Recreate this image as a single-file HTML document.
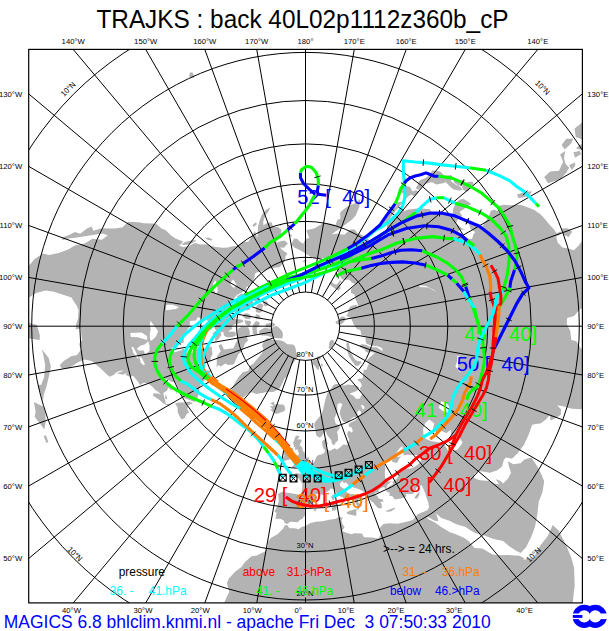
<!DOCTYPE html><html><head><meta charset="utf-8"><title>TRAJKS</title>
<style>html,body{margin:0;padding:0;background:#fff}body{width:609px;height:631px;overflow:hidden}svg{display:block}text{font-family:"Liberation Sans",sans-serif}</style></head><body>
<svg width="609" height="631" viewBox="0 0 609 631">
<rect width="609" height="631" fill="#fff"/>
<defs><clipPath id="f"><rect x="28.7" y="49.4" width="553.7" height="553.5"/></clipPath></defs>
<g clip-path="url(#f)">
<path d="M370.0 711.8L369.2 695.0L366.9 685.6L358.9 683.7L349.6 685.6L343.4 686.9L336.3 678.2L332.4 675.4L320.8 676.1L312.9 678.2L305.5 680.1L293.0 685.5L286.8 683.4L274.4 681.9L258.2 685.2L249.5 680.1L239.9 670.2L231.3 661.0L228.0 654.1L229.4 648.3L224.1 641.0L222.1 637.5L215.0 627.9L216.1 622.3L214.8 613.9L221.8 608.7L225.8 598.9L229.3 591.8L226.9 583.2L228.8 578.5L235.1 571.7L241.4 566.9L245.0 561.9L251.5 556.3L256.8 555.5L265.0 551.5L267.8 546.5L268.2 542.0L270.8 537.9L277.8 534.0L283.2 528.5L284.9 525.2L287.1 525.0L289.6 528.3L294.9 528.2L298.4 529.2L302.0 526.7L305.5 525.9L310.0 523.2L315.7 521.7L322.6 521.3L329.3 519.7L334.7 519.0L339.1 516.9L342.7 517.6L341.5 520.4L342.5 524.1L344.6 527.3L342.0 530.9L345.6 532.4L351.6 534.3L354.1 533.3L361.9 533.6L364.0 537.2L372.2 537.6L378.6 538.4L381.2 534.1L379.2 528.6L383.5 524.1L389.1 523.2L397.7 523.8L405.3 522.1L413.0 520.1L415.4 516.6L418.3 513.9L423.0 512.0L427.3 510.3L429.1 507.5L428.2 502.1L426.8 498.8L425.3 493.5L423.6 489.3L421.6 484.9L419.7 486.3L416.4 487.6L415.2 492.0L412.3 493.9L406.3 494.0L406.0 496.7L401.0 498.6L397.4 499.1L394.9 499.4L392.1 496.1L389.4 496.0L389.6 492.7L386.9 491.7L386.0 489.8L388.9 486.5L393.1 484.2L392.4 481.7L397.1 478.6L400.3 472.2L405.4 468.8L410.8 468.4L415.2 466.6L420.0 462.7L422.2 458.1L419.5 455.1L413.5 454.9L407.8 454.8L403.6 455.0L402.8 450.7L402.4 445.9L399.3 448.4L396.1 453.2L397.3 457.2L401.4 456.2L399.3 458.2L397.4 462.5L395.5 462.7L391.7 461.4L392.9 457.8L388.8 459.5L385.6 459.6L384.9 463.7L385.3 466.2L384.9 471.9L384.9 475.6L385.5 478.5L387.2 479.9L388.7 481.4L391.5 481.3L389.2 483.5L387.4 484.9L386.8 487.1L385.8 489.4L384.0 487.1L381.0 488.1L378.5 490.1L379.1 493.0L375.4 492.4L375.6 494.5L377.9 496.7L378.7 498.6L382.7 499.6L383.6 501.6L380.2 502.1L381.6 503.8L381.9 507.9L380.6 508.4L377.9 508.1L375.2 505.1L373.7 502.9L371.7 501.4L369.2 499.3L365.6 497.0L364.3 492.2L362.2 490.8L358.4 489.0L353.2 487.3L348.8 485.6L345.9 482.2L343.8 483.2L342.9 480.9L339.7 483.3L340.4 486.4L344.6 489.2L347.7 493.0L352.1 494.3L353.9 493.8L354.2 495.9L358.3 496.8L362.8 498.4L363.3 500.0L358.9 498.8L357.8 501.7L360.3 504.5L359.2 507.4L358.2 509.9L356.9 509.0L356.9 505.5L354.8 501.7L351.4 500.1L349.4 499.7L345.4 499.0L342.5 497.2L338.4 495.5L336.5 493.4L335.0 489.9L332.7 488.7L330.6 488.6L328.7 491.0L326.7 492.0L323.8 494.8L320.2 494.4L317.2 493.8L314.9 495.1L314.8 498.4L315.2 500.4L312.3 503.0L308.0 505.6L305.5 509.4L304.5 511.0L306.2 514.0L303.5 516.9L302.8 518.6L299.4 520.2L298.0 522.3L290.4 521.8L287.1 524.1L284.5 523.0L283.7 520.4L280.5 518.7L275.3 518.8L276.6 513.0L274.5 511.4L277.3 506.3L278.7 501.5L278.6 497.8L278.0 494.0L282.2 491.8L285.1 492.5L289.4 493.0L294.4 493.8L299.6 494.9L301.1 494.1L302.1 489.3L302.4 485.7L302.2 483.3L299.9 480.1L298.9 478.5L296.3 477.2L293.7 476.2L293.3 474.2L296.5 472.9L299.1 473.8L301.6 473.5L301.5 470.0L302.5 470.8L305.8 470.8L309.2 468.1L309.4 465.4L311.5 464.1L313.9 462.9L314.9 460.5L316.3 457.0L317.9 455.3L321.3 454.5L323.4 453.5L324.6 452.2L324.9 449.9L323.3 448.2L322.6 446.0L322.1 442.7L322.6 440.4L324.5 439.7L326.3 437.5L326.7 441.9L327.8 442.9L326.6 445.8L326.1 447.8L327.2 449.5L329.7 450.9L331.8 449.7L334.8 448.3L337.0 449.7L340.2 447.2L343.8 444.2L345.7 445.1L348.0 444.3L347.8 442.4L349.3 440.2L347.3 435.0L347.4 432.6L349.0 430.7L351.7 432.4L352.9 431.1L351.4 427.3L349.2 426.7L348.4 425.0L350.0 423.0L352.1 421.7L355.5 420.3L358.4 417.1L355.9 417.2L353.8 417.1L350.8 419.1L349.5 420.9L346.6 423.0L344.2 422.0L342.2 420.4L340.4 415.7L339.8 413.2L340.3 410.3L341.7 405.7L342.5 404.2L339.9 402.7L337.4 404.5L337.4 408.0L337.2 411.9L335.5 415.9L334.4 418.5L335.4 422.8L336.0 424.1L338.5 424.9L340.0 427.1L339.0 429.3L337.0 431.9L337.9 435.5L338.1 440.0L337.5 441.0L335.2 442.8L335.4 444.3L332.9 444.9L331.4 442.1L331.4 440.2L329.2 437.7L326.9 434.4L326.2 432.6L325.1 431.0L325.1 432.1L323.5 433.5L321.1 436.9L319.2 437.5L316.4 435.6L315.8 433.0L314.9 429.1L314.2 425.1L314.8 422.5L317.0 419.7L319.1 417.3L321.2 415.1L322.4 411.6L323.4 408.4L324.0 405.0L325.0 401.5L325.6 398.8L326.3 396.4L327.3 393.4L328.2 392.1L330.0 389.9L331.6 387.7L333.7 384.8L336.2 384.0L338.4 383.9L340.5 384.4L340.5 386.8L342.4 385.3L344.7 385.5L347.9 384.5L351.4 385.0L354.8 385.0L357.7 386.2L358.9 387.6L358.1 390.1L354.9 391.7L351.4 392.9L349.4 393.8L353.8 396.0L356.0 398.9L360.0 398.6L360.6 396.8L362.7 393.2L360.1 391.2L360.1 387.9L362.0 385.7L360.6 382.6L357.1 379.6L356.2 380.0L359.7 378.5L361.1 379.0L362.8 377.8L363.2 374.6L363.7 370.0L366.5 369.7L367.5 366.4L369.2 363.0L366.6 360.4L370.0 356.9L372.9 354.8L374.8 352.8L371.0 352.0L369.0 353.1L365.7 351.8L364.7 349.5L360.7 347.4L359.4 345.8L361.9 344.0L366.3 345.1L371.2 347.2L376.7 347.3L382.8 351.3L382.0 348.1L377.0 346.0L371.6 345.8L366.7 343.8L365.5 341.7L365.8 340.1L365.0 338.9L366.6 336.4L361.5 335.1L360.3 330.0L356.9 328.9L353.4 323.7L351.1 318.2L346.3 315.8L348.1 313.2L348.4 308.9L350.9 306.0L356.1 304.7L358.1 307.0L357.7 304.0L355.6 299.6L354.5 294.4L351.1 293.1L350.9 289.4L355.6 284.1L352.1 282.8L348.9 279.6L344.2 280.1L342.1 279.3L339.5 275.7L337.3 271.1L335.4 267.6L331.1 266.0L328.8 262.1L328.5 259.3L323.8 257.9L319.8 258.8L316.9 257.9L318.1 254.8L316.3 258.1L310.4 256.7L305.5 253.4L301.6 251.0L294.4 247.4L291.1 244.7L294.0 238.5L297.1 238.8L299.6 241.5L303.3 243.8L304.8 240.6L307.8 238.1L309.3 238.5L307.1 232.3L306.3 230.2L314.1 228.4L319.7 225.3L323.7 223.0L331.0 223.8L335.5 225.0L337.5 219.5L340.4 218.9L340.2 212.6L344.0 209.1L349.6 205.0L353.6 204.1L360.3 199.0L359.3 207.0L355.7 215.6L351.7 220.0L347.2 222.9L341.3 227.8L335.4 231.5L331.9 234.2L338.3 233.6L339.9 234.2L344.3 234.8L350.6 229.6L354.7 229.6L357.2 233.0L361.6 234.7L370.1 240.5L377.3 239.1L384.2 238.7L390.1 235.5L390.5 231.8L387.2 228.9L386.8 224.7L390.2 221.6L394.8 217.9L400.1 212.2L408.9 209.4L419.4 208.3L430.0 209.3L431.2 213.0L435.7 213.8L440.8 213.5L443.2 211.9L450.8 214.7L452.8 213.2L453.1 208.8L456.1 202.5L459.4 199.7L463.0 198.7L468.0 201.5L471.1 204.1L467.4 206.4L462.2 210.2L459.6 211.7L462.4 216.3L458.7 217.7L456.8 221.5L456.1 223.5L461.9 228.5L465.2 229.1L458.4 230.7L458.6 234.2L464.9 236.0L469.4 239.0L472.1 238.7L473.7 233.7L475.3 232.1L470.5 229.0L468.5 222.4L470.6 221.8L477.5 225.7L482.2 227.0L484.4 222.9L488.8 216.5L490.6 211.0L493.9 209.4L498.2 211.3L497.3 206.3L503.8 204.7L510.7 205.3L520.2 204.7L526.9 207.0L533.9 209.8L540.4 214.2L544.7 218.7L548.3 223.2L553.2 228.6L556.6 233.3L560.7 231.3L561.2 234.1L556.1 236.5L557.8 242.8L562.5 247.6L568.0 248.4L573.9 250.3L578.9 245.2L584.0 238.4L587.3 231.4L596.4 224.3L605.6 221.7L613.1 226.2L617.9 231.9L623.2 233.3L630.4 239.2L622.6 241.8L621.6 249.7L614.6 257.7L612.4 266.5L608.5 269.5L610.7 272.4L620.2 271.3L629.3 273.2L634.5 268.8L644.4 263.4L647.1 254.8L650.0 247.9L657.1 242.4L667.6 239.3L675.2 232.0L677.2 237.0L673.5 248.0L669.4 253.5L660.9 260.3L651.9 263.3L646.7 269.1L641.8 277.1L630.0 277.7L618.6 278.9L608.0 283.7L597.5 286.7L595.1 293.2L599.9 298.9L598.2 304.2L588.7 303.9L579.8 309.4L574.0 315.9L567.1 318.0L566.7 323.9L570.2 330.8L571.4 340.1L576.3 341.3L580.5 347.8L586.5 355.7L593.8 365.2L596.7 371.3L598.6 376.3L609.1 379.2L620.0 382.2L626.2 386.8L631.6 389.6L633.5 394.7L636.7 399.6L629.1 403.9L616.3 404.8L605.6 407.7L593.9 408.9L582.6 409.3L571.9 408.7L562.1 406.1L557.0 405.5L561.1 409.2L560.7 415.1L550.8 420.4L549.6 415.0L545.9 419.4L540.5 423.6L535.7 423.9L532.2 424.8L528.5 435.0L524.0 444.8L517.4 453.5L511.9 458.7L506.0 457.4L503.8 459.9L502.1 466.4L496.9 470.4L489.7 472.7L484.0 471.8L478.1 471.0L474.3 474.0L473.9 477.9L479.7 480.3L490.1 481.1L494.3 483.5L499.3 484.2L495.5 479.0L500.7 480.9L503.1 483.4L507.9 478.7L511.0 472.8L508.8 465.9L508.0 461.2L513.4 464.3L520.5 463.2L524.5 459.4L531.3 457.6L537.5 466.7L541.5 474.8L544.2 481.2L542.5 492.1L538.7 501.9L537.4 514.0L535.2 525.9L531.3 536.8L526.2 546.9L520.7 553.0L516.5 550.9L509.3 546.3L503.1 541.1L493.7 539.0L484.3 535.5L473.8 532.5L465.1 526.8L456.4 524.3L449.4 520.7L441.3 517.9L436.0 513.2L438.2 520.0L438.1 521.3L434.7 520.7L427.4 516.8L427.7 518.7L435.7 522.9L440.8 526.8L449.8 532.2L453.9 533.5L463.5 537.4L468.6 541.1L474.5 548.1L482.3 548.5L492.1 554.2L497.7 555.2L507.9 555.0L519.5 555.7L524.2 558.3L523.4 559.8L533.4 558.1L540.4 545.2L547.5 536.5L552.7 525.0L558.6 530.4L565.9 544.7L571.2 557.2L574.1 568.0L574.7 586.2L573.9 591.8L572.3 607.4L570.8 620.9L570.8 636.8L578.8 663.7L530.4 715.7L421.9 760.7L372.3 725.5ZM2.9 315.6L11.6 305.6L10.9 295.2L14.8 285.3L20.6 276.0L27.6 267.1L34.9 258.7L43.1 253.4L49.0 255.1L58.8 253.1L68.6 249.2L74.9 245.4L84.6 243.6L92.4 238.8L101.9 239.8L107.8 235.3L102.1 233.5L91.4 235.3L83.3 236.4L75.2 237.8L68.3 238.4L62.5 240.1L61.8 237.5L68.4 235.2L74.9 232.1L80.3 233.8L86.6 228.7L91.7 226.5L93.3 230.8L102.1 228.3L111.1 228.4L115.1 228.4L122.6 227.3L128.2 221.8L138.5 222.3L143.9 223.3L152.3 223.6L156.4 224.1L161.5 228.4L165.4 229.9L171.2 235.6L175.5 238.5L183.1 241.4L180.3 244.9L177.3 244.5L182.6 247.0L187.5 246.6L194.9 242.9L200.9 244.5L206.0 244.2L210.6 245.7L216.0 247.0L222.8 247.8L228.2 247.5L231.0 246.4L237.0 246.0L241.0 243.6L244.3 242.0L248.5 241.8L250.6 238.3L252.0 235.3L254.9 231.1L256.9 236.7L255.3 239.3L257.7 236.3L257.9 230.8L258.0 226.7L259.6 220.7L261.7 215.0L265.6 210.3L270.3 207.3L268.3 211.8L265.3 215.6L263.2 221.6L263.4 225.5L266.1 223.6L271.3 222.1L273.1 226.6L278.0 227.0L281.5 229.8L280.8 234.1L279.8 236.7L276.3 238.9L276.5 243.0L279.6 241.6L284.6 240.6L287.9 243.5L283.8 247.8L279.9 247.5L283.1 250.6L287.4 253.5L285.5 256.5L285.0 261.1L281.8 264.5L279.8 267.2L275.6 267.6L270.9 268.6L266.2 270.0L261.4 271.8L257.0 272.3L254.9 273.8L254.6 277.1L253.2 280.7L252.4 283.9L249.6 284.1L249.0 286.7L246.6 286.5L245.8 290.3L240.6 293.1L237.0 295.0L233.9 298.7L234.1 302.3L229.4 302.9L232.3 305.9L230.5 310.3L231.0 315.1L231.8 317.2L233.4 319.3L236.9 319.0L242.1 319.8L243.8 321.3L240.1 323.3L235.9 323.8L231.3 326.2L232.4 328.8L227.9 331.6L235.0 331.7L236.1 335.3L232.1 337.2L226.7 337.3L224.0 335.5L223.3 331.9L217.2 332.4L215.3 329.4L213.4 325.4L209.9 322.0L204.6 319.1L197.4 317.3L196.1 320.5L189.8 321.1L189.7 326.2L186.1 331.4L183.8 336.8L183.7 342.7L175.9 344.0L172.5 347.3L170.0 350.6L173.4 352.4L180.8 350.4L183.1 348.4L187.0 352.5L192.8 352.8L198.2 348.0L203.2 348.9L208.4 346.8L211.6 346.5L212.0 351.2L212.7 353.7L210.6 357.9L210.5 360.8L206.7 363.1L203.2 364.4L202.6 367.8L205.8 370.6L211.8 370.5L208.5 374.6L204.9 379.7L200.9 384.2L199.3 388.8L198.4 394.5L197.0 399.4L194.1 401.9L191.0 400.6L185.2 398.5L180.8 393.9L178.6 388.1L175.7 382.6L171.5 381.7L167.2 379.3L161.1 377.3L163.4 379.3L170.2 383.6L174.3 388.8L171.1 390.3L168.4 387.2L167.0 390.8L163.3 393.1L164.1 396.7L165.3 400.7L165.6 403.8L170.4 404.2L171.4 402.0L169.0 405.7L164.5 404.3L158.8 399.4L153.0 395.7L153.6 393.2L158.1 393.4L161.1 395.1L158.3 391.7L155.3 390.0L152.2 386.6L148.4 383.4L143.9 382.8L140.6 384.6L140.8 386.2L138.8 383.0L136.3 379.5L133.0 375.7L129.4 376.7L125.4 374.8L127.0 372.4L123.2 374.7L118.7 373.8L116.3 373.4L124.3 370.4L120.1 370.7L116.1 372.4L114.4 374.5L109.7 376.8L106.3 374.0L102.3 370.1L98.4 366.5L91.6 360.9L84.5 359.6L78.0 362.2L73.8 365.0L68.6 368.0L61.5 368.4L59.9 365.1L63.7 361.0L71.1 356.2L77.0 355.1L81.0 349.8L79.1 344.0L82.0 339.9L81.3 334.0L80.7 328.2L75.7 329.4L76.1 324.2L78.1 318.3L78.5 310.3L77.0 306.2L71.4 297.5L63.2 294.7L53.9 291.7L45.7 290.6L36.3 293.1L29.2 297.2L24.0 302.6L24.8 313.9L26.1 321.3L31.7 323.8L36.8 324.8L39.9 335.5L39.6 340.1L32.0 339.1L24.2 337.0L18.9 335.2L11.0 333.9L10.5 346.8L8.5 360.0L2.1 361.8ZM291.4 467.4L295.2 467.0L297.0 465.9L300.6 466.1L303.1 465.4L306.2 465.4L308.9 463.9L307.2 462.7L309.4 458.5L308.5 457.4L306.2 457.4L306.2 455.1L305.1 452.9L302.9 451.0L302.1 447.6L300.3 445.6L299.2 445.6L300.4 443.8L301.5 440.8L301.9 439.7L298.6 439.2L297.2 439.9L299.1 437.0L299.7 436.0L295.9 435.7L294.7 438.5L293.8 441.4L292.8 442.8L294.0 445.2L293.6 447.4L295.2 446.4L295.0 449.0L294.5 449.7L298.0 449.6L297.8 451.5L299.1 453.1L298.5 455.3L295.8 455.5L294.9 457.4L296.0 458.6L294.2 460.4L293.2 461.0L295.5 462.0L298.3 462.9L297.1 463.6L294.6 464.2ZM291.0 459.3L291.9 455.2L292.8 451.1L293.6 450.0L292.7 448.1L290.0 447.4L287.2 448.5L286.9 450.7L283.6 450.6L283.5 453.6L284.4 454.9L283.7 456.7L281.5 458.3L281.9 460.3L284.1 461.1L286.7 460.3L289.1 459.4ZM270.7 410.3L274.0 412.7L276.2 413.9L280.7 412.6L283.4 411.5L285.4 409.4L284.5 405.9L283.1 404.4L280.0 404.6L276.8 403.8L274.4 405.2L274.2 401.7L271.4 402.8L270.6 403.6L273.4 405.6L272.3 406.3L270.0 406.0L272.1 408.9L270.5 409.8ZM312.4 363.6L312.5 360.4L314.9 359.1L317.2 360.2L319.2 362.0L318.9 365.1L318.9 370.1L317.0 369.2L315.1 366.2ZM315.9 358.1L318.2 356.1L320.9 356.4L320.4 359.7L317.3 359.4ZM320.8 366.2L321.3 363.4L322.8 364.2L322.6 366.6ZM355.3 365.8L354.3 364.3L352.2 361.4L349.1 356.7L347.7 352.6L347.0 348.3L346.2 344.3L347.4 342.3L348.7 342.8L349.6 346.8L350.5 351.2L352.4 354.9L354.2 358.5L356.8 360.8L360.7 361.4L361.6 362.6L358.7 365.5ZM329.8 348.8L331.9 346.8L333.9 344.0L333.8 340.6L331.2 339.8L329.3 342.3L329.1 346.0L328.5 347.7ZM343.0 322.9L345.4 319.9L344.4 316.5L340.9 316.7L339.1 319.7L335.3 322.0L336.2 323.5L339.7 325.0ZM340.6 288.6L340.2 286.3L340.0 280.4L336.9 284.5L333.9 284.1L331.2 281.6L329.1 283.6L331.6 285.9L335.7 288.9L338.7 290.6ZM342.5 282.8L339.8 279.8L339.8 282.3ZM307.2 260.8L304.4 262.5L302.7 261.5L304.3 260.1ZM402.8 201.7L397.6 201.8L396.2 206.6L390.4 207.2L388.4 215.3L383.7 221.3L381.6 225.9L384.9 224.6L388.8 220.4L393.1 214.1L397.9 207.9L401.8 203.4ZM418.7 191.3L415.6 190.3L412.6 191.6L409.5 186.6L401.1 187.1L399.3 190.7L404.7 194.6L404.9 200.4L407.6 196.9L411.0 194.5L413.6 196.0L416.5 194.8ZM462.6 190.1L460.3 186.8L455.0 184.3L450.7 181.0L452.6 178.1L451.4 175.1L446.4 175.7L443.9 175.2L440.7 171.7L436.9 170.7L432.0 170.6L429.8 174.9L425.5 178.0L421.1 179.8L418.8 181.2L417.7 185.1L415.6 188.2L418.8 189.7L422.7 186.5L425.9 183.8L431.7 182.1L436.3 184.5L438.9 184.1L443.9 182.9L445.6 182.1L450.0 186.6L453.5 189.6L458.9 190.5ZM463.0 189.8L462.0 186.7L463.9 183.6L469.8 181.4L473.2 181.9L473.4 184.3L468.9 187.2L469.5 190.0L466.9 191.7L464.3 190.6ZM458.8 185.7L454.1 182.7L453.9 179.3L456.7 179.1L460.3 180.9L462.2 181.6L461.5 184.8ZM529.2 196.0L518.6 198.2L517.0 194.6L524.1 192.3L532.0 191.2ZM568.7 237.1L563.6 234.8L561.3 228.5L567.7 228.2L572.3 231.7ZM566.4 172.5L560.7 178.9L548.0 183.3L544.2 177.0L550.1 171.6L559.0 170.8L563.1 162.1L560.1 154.5L565.2 151.0L564.0 158.3L565.5 163.7L569.2 167.7ZM598.9 142.9L585.9 140.6L575.7 137.0L574.6 128.5L586.4 119.1L593.1 121.0L594.1 127.8L591.4 136.9ZM564.7 149.4L561.6 144.9L566.3 138.8L573.3 138.7L571.1 143.6ZM575.0 157.8L573.4 152.2L579.5 151.0L581.3 153.9ZM582.2 149.9L575.9 148.6L580.1 144.5L585.1 144.6ZM605.7 171.9L597.4 167.7L584.8 168.8L588.3 165.6L598.4 165.8L605.9 169.8ZM571.8 169.9L569.1 165.3L574.6 162.6L575.5 165.2ZM665.6 202.2L659.9 190.2L651.9 189.7L645.9 181.7L635.7 179.2L626.1 173.3L614.5 170.8L615.6 163.4L617.8 153.1L625.7 155.9L634.0 153.7L641.8 147.4L652.3 145.7L675.8 145.6L692.7 185.3L675.2 198.9ZM658.5 293.5L659.5 279.6L667.2 270.9L675.5 257.6L681.3 246.3L685.7 234.9L698.4 228.2L710.0 247.6L697.3 257.1L680.7 268.8L672.5 281.1ZM640.0 386.4L629.9 382.2L637.9 377.7L646.2 374.7L652.3 379.3L652.4 386.1L646.0 387.5ZM346.5 512.5L349.2 511.0L356.4 508.7L356.3 514.4L356.6 515.7L353.8 515.5L347.5 514.0ZM332.1 510.8L331.6 502.9L333.9 501.3L336.2 503.8L336.5 509.3L334.7 510.4ZM331.3 496.7L333.3 493.9L334.2 497.9L333.7 500.5L332.0 499.1ZM386.1 510.7L395.1 507.5L394.7 509.1L390.7 511.5L386.1 511.7ZM414.3 498.2L415.6 495.8L419.4 491.3L419.3 494.9L417.3 498.4ZM313.2 510.0L315.7 508.7L316.4 509.9L315.2 511.2ZM175.1 403.6L177.6 407.7L177.8 412.3L179.5 416.1L181.5 419.6L184.9 418.1L186.4 414.3L188.9 412.5L187.3 408.9L188.2 405.3L193.0 403.5L189.4 401.6L183.2 402.6L178.5 402.5ZM233.1 402.5L232.1 398.4L230.4 393.9L232.2 387.7L235.4 381.9L239.1 376.2L242.8 372.2L248.4 370.8L249.4 366.2L253.7 363.2L257.1 358.9L261.8 353.5L263.5 349.5L262.0 345.6L263.3 342.4L265.0 340.1L266.9 338.0L272.2 339.7L276.1 339.9L280.1 340.3L283.7 341.5L287.4 344.3L292.8 344.4L294.9 346.1L295.9 350.0L296.5 353.8L299.5 354.6L296.1 359.1L293.9 362.0L290.9 366.4L289.9 371.6L287.3 376.2L284.3 378.8L282.3 383.6L279.8 388.3L273.4 392.0L267.7 391.7L262.2 392.9L256.2 394.0L252.1 392.2L248.0 393.5L243.9 397.0L238.4 399.4ZM216.5 367.7L216.8 362.0L216.7 356.8L220.7 351.3L218.4 345.5L221.4 344.1L223.9 349.6L229.2 348.8L233.5 348.2L235.2 343.7L237.9 339.9L236.9 335.8L237.5 332.1L238.4 328.5L241.8 326.8L248.1 327.2L249.7 331.1L249.8 335.0L246.6 336.6L248.1 340.5L245.0 343.6L243.6 347.5L242.0 351.2L238.5 353.9L235.6 360.3L233.7 364.4L227.9 364.9L225.3 363.6L220.8 366.6L218.1 365.1ZM259.2 334.4L261.9 335.5L267.3 335.7L271.3 337.3L277.2 338.2L282.3 338.6L283.0 334.4L282.1 331.2L279.3 328.0L276.4 325.7L273.0 327.3L269.7 328.7L265.1 327.6L261.7 329.3L259.1 331.1ZM269.7 323.1L265.5 324.1L266.1 326.9L269.6 327.5L274.0 326.2L275.5 324.6L273.2 322.8ZM254.8 335.1L252.8 333.6L252.3 328.1L253.4 324.4L256.0 321.0L259.7 322.2L259.2 325.4L256.5 327.9L257.1 331.3L257.4 333.8ZM234.4 312.4L234.1 307.1L236.1 300.9L237.4 295.9L241.6 293.6L245.9 295.2L247.8 299.3L249.5 295.8L253.0 298.3L253.1 302.9L249.9 306.0L250.3 309.3L247.4 310.6L242.3 309.3L239.7 312.8ZM254.2 290.3L251.2 290.9L250.4 294.4L252.6 297.5L253.6 300.9L257.2 301.6L259.9 298.8L259.6 294.7L256.5 291.3ZM260.6 303.3L257.5 304.8L255.5 308.0L256.0 312.0L259.4 313.0L262.4 311.4L262.3 307.8L263.6 304.9ZM244.9 313.3L242.6 316.2L245.8 318.9L250.0 318.9L251.5 316.2L248.4 313.6ZM244.6 320.3L245.4 324.1L248.8 326.2L250.9 323.8L250.8 320.9ZM215.4 330.9L212.6 333.5L215.2 337.3L215.1 341.7L218.4 339.2L221.4 335.0L220.8 332.1L218.2 330.8ZM233.3 314.1L232.2 317.2L234.4 319.4L236.4 317.1L235.8 314.5ZM256.6 314.0L254.8 317.3L256.2 319.3L260.1 319.0L260.4 315.8ZM265.8 300.4L262.9 302.6L264.8 306.4L268.0 305.4L267.7 302.6ZM41.8 349.3L48.6 357.7L50.9 366.5L49.0 376.1L46.6 386.0L43.9 393.9L43.0 400.5L37.7 385.6L41.2 384.8L44.2 377.0L45.2 365.1L43.5 356.1ZM33.9 402.0L43.2 406.4L45.4 413.2L45.7 421.8L44.3 429.6L39.5 423.0L34.6 416.8L35.6 411.3ZM46.0 435.3L48.5 442.2L46.4 442.7L43.6 436.3ZM193.7 75.2L193.9 77.9L189.4 77.1L189.8 72.4L192.5 72.4ZM181.6 244.2L185.1 241.9L191.8 240.6L196.2 239.9L194.0 242.2L188.6 244.4L184.0 244.9ZM256.0 222.3L252.7 224.8L253.4 226.9L255.1 226.0L256.8 224.0ZM211.8 240.4L208.1 240.0L204.9 237.8L209.0 237.8L212.6 239.6ZM291.8 234.8L287.7 234.8L289.7 236.6L292.1 236.2ZM281.9 224.1L279.6 224.7L280.5 226.0ZM176.7 387.6L176.8 394.6L175.7 390.9ZM165.7 393.5L167.4 399.6L165.0 398.4Z" fill="#b3b3b3" fill-rule="nonzero"/>
<path d="M452.1 451.4L457.7 449.4L462.6 442.4L459.8 438.3L455.0 435.6L451.1 435.9L450.6 429.7L446.4 433.2L442.0 430.9L436.1 431.9L432.9 429.4L434.2 423.2L429.1 419.4L425.2 423.1L423.2 428.5L423.4 434.3L425.0 438.4L430.8 441.1L436.5 442.1L442.6 443.3L445.9 447.0L447.9 450.5ZM438.5 407.7L441.2 401.4L446.1 402.5L450.0 407.9L448.8 412.3L444.0 411.7ZM438.0 293.2L433.1 289.6L426.0 285.9L419.0 285.3L419.6 286.9L428.5 287.4L435.5 291.4ZM460.0 372.0L455.4 366.4L457.1 361.2L457.5 355.7L459.8 356.2L458.7 361.6L458.1 367.1L461.2 370.8ZM357.8 416.1L357.2 412.3L358.9 409.9L361.2 411.9L360.8 414.7ZM362.8 409.5L360.8 405.2L363.1 404.9L364.9 408.0ZM150.4 320.8L154.6 326.2L158.2 331.3L155.8 336.7L151.7 340.5L150.1 340.3L149.7 334.4L150.7 328.9L149.9 324.8ZM130.3 332.9L130.9 336.9L137.9 337.3L145.3 339.4L147.3 340.0L147.0 335.9L141.7 332.5L135.6 332.7ZM148.3 341.3L149.5 345.4L149.5 350.9L145.2 354.5L143.7 350.4L138.1 350.6L136.9 348.4L140.7 345.6L144.6 344.5ZM131.4 346.7L133.6 353.4L137.8 358.8L138.6 358.6L136.4 353.0L133.5 347.3ZM139.4 356.4L140.7 362.7L144.3 365.8L144.6 363.4L141.8 358.0ZM233.4 279.4L236.7 284.9L233.7 288.0L230.6 284.7L231.2 281.6ZM215.4 280.3L217.1 285.0L217.8 290.8L216.0 294.5L213.4 289.0L213.2 283.2ZM166.4 304.7L166.0 310.3L175.8 309.1L179.1 307.3L172.6 304.7Z" fill="#fff"/>
<g fill="none" stroke="#000" stroke-width="1"><circle cx="305.5" cy="326.2" r="328.1"/><circle cx="305.5" cy="326.2" r="273.8"/><circle cx="305.5" cy="326.2" r="225.7"/><circle cx="305.5" cy="326.2" r="182.3"/><circle cx="305.5" cy="326.2" r="142.3"/><circle cx="305.5" cy="326.2" r="104.8"/><circle cx="305.5" cy="326.2" r="68.9"/><circle cx="305.5" cy="326.2" r="34.2"/><path d="M305.5 360.4 L305.5 385.1M305.5 392.9 L305.5 421.0M305.5 428.8 L305.5 458.5M305.5 466.3 L305.5 498.5M305.5 506.3 L305.5 541.9M305.5 549.7 L305.5 589.7M305.5 597.5 L305.5 746.2M311.4 359.9 L378.4 739.8M317.2 358.3 L449.1 720.9M322.6 355.8 L515.5 689.9M327.5 352.4 L575.5 647.9M331.7 348.2 L627.2 596.2M335.1 343.3 L669.2 536.2M337.6 337.9 L700.2 469.8M339.2 332.1 L719.1 399.1M339.7 326.2 L725.5 326.2M339.2 320.3 L719.1 253.3M337.6 314.5 L700.2 182.6M335.1 309.1 L669.2 116.2M331.7 304.2 L627.2 56.2M327.5 300.0 L575.5 4.5M322.6 296.6 L515.5 -37.5M317.2 294.1 L449.1 -68.5M311.4 292.5 L378.4 -87.4M305.5 292.0 L305.5 -93.8M299.6 292.5 L232.6 -87.4M293.8 294.1 L161.9 -68.5M288.4 296.6 L95.5 -37.5M283.5 300.0 L35.5 4.5M279.3 304.2 L-16.2 56.2M275.9 309.1 L-58.2 116.2M273.4 314.5 L-89.2 182.6M271.8 320.3 L-108.1 253.3M271.3 326.2 L-114.5 326.2M271.8 332.1 L-108.1 399.1M273.4 337.9 L-89.2 469.8M275.9 343.3 L-58.2 536.2M279.3 348.2 L-16.2 596.2M283.5 352.4 L35.5 647.9M288.4 355.8 L95.5 689.9M293.8 358.3 L161.9 720.9M299.6 359.9 L232.6 739.8"/></g>
<text transform="translate(305.1 596.3) scale(0.947 1)" font-size="8.03" fill="#000" text-anchor="middle" xml:space="preserve">20°N</text><text transform="translate(305.1 548.4) scale(0.947 1)" font-size="8.03" fill="#000" text-anchor="middle" xml:space="preserve">30°N</text><text transform="translate(305.1 505.0) scale(0.947 1)" font-size="8.03" fill="#000" text-anchor="middle" xml:space="preserve">40°N</text><text transform="translate(305.1 465.0) scale(0.947 1)" font-size="8.03" fill="#000" text-anchor="middle" xml:space="preserve">50°N</text><text transform="translate(305.1 427.5) scale(0.947 1)" font-size="8.03" fill="#000" text-anchor="middle" xml:space="preserve">60°N</text><text transform="translate(305.1 391.6) scale(0.947 1)" font-size="8.03" fill="#000" text-anchor="middle" xml:space="preserve">70°N</text><text transform="translate(305.1 356.9) scale(0.947 1)" font-size="8.03" fill="#000" text-anchor="middle" xml:space="preserve">80°N</text><text transform="translate(68.1 89.1) rotate(-45) scale(0.947 1)" x="0" y="2.7" font-size="8.0" text-anchor="middle" fill="#000">10°N</text><text transform="translate(542.5 87.5) rotate(45) scale(0.947 1)" x="0" y="2.7" font-size="8.0" text-anchor="middle" fill="#000">10°N</text><text transform="translate(75.0 554.0) rotate(45) scale(0.947 1)" x="0" y="2.7" font-size="8.0" text-anchor="middle" fill="#000">10°N</text><text transform="translate(533.6 554.8) rotate(-45) scale(0.947 1)" x="0" y="2.7" font-size="8.0" text-anchor="middle" fill="#000">10°N</text>
<text transform="translate(297.3 203.7) scale(0.98 1)" font-size="20.6" fill="#0000ff" xml:space="preserve">52 [  40]</text><text transform="translate(464.2 341.0) scale(0.98 1)" font-size="20.6" fill="#00ff00" xml:space="preserve">45 [  40]</text><text transform="translate(456.7 370.9) scale(0.98 1)" font-size="20.6" fill="#0000ff" xml:space="preserve">50 [  40]</text><text transform="translate(414.8 417.0) scale(0.98 1)" font-size="20.6" fill="#00ff00" xml:space="preserve">41 [  40]</text><text transform="translate(419.1 459.9) scale(0.98 1)" font-size="20.6" fill="#ff0000" xml:space="preserve">30 [  40]</text><text transform="translate(398.4 492.2) scale(0.98 1)" font-size="20.6" fill="#ff0000" xml:space="preserve">28 [  40]</text><text transform="translate(253.7 502.3) scale(0.98 1)" font-size="20.6" fill="#ff0000" xml:space="preserve">29 [  40]</text><text transform="translate(295.7 507.7) scale(0.98 1)" font-size="20.6" fill="#ff7f00" xml:space="preserve">33 [  40]</text><g fill="none" stroke-linejoin="round" stroke-linecap="butt"><polyline stroke="#ff7f00" stroke-width="3.1" points="218.0,382.0 211.0,377.0"/><polyline stroke="#00ffff" stroke-width="3.1" points="211.0,377.0 205.0,372.0 201.6,369.1 200.1,363.2 199.1,356.3 199.6,349.4 201.1,341.5 203.6,335.6 207.5,329.7 229.3,312.9 249.0,301.1 268.7,291.2 288.4,283.3 300.0,279.4 319.6,268.0 335.0,258.5 347.6,250.0 357.0,244.3 367.0,237.0 375.7,230.0 382.0,226.8 391.1,219.9 398.0,213.0 402.6,206.1 404.9,196.9 404.5,185.0 403.3,172.0 403.4,160.8 415.2,162.0 429.6,163.1 442.3,164.9 454.9,166.2 469.5,167.8"/><polyline stroke="#00ff00" stroke-width="3.1" points="469.5,167.8 486.1,170.2"/><polyline stroke="#00ffff" stroke-width="3.1" points="486.1,170.2 500.4,176.1 509.9,180.9 517.0,186.8 524.2,191.6 531.3,198.7 536.0,203.5"/><polyline stroke="#00ff00" stroke-width="3.1" points="536.0,203.5 538.9,206.6"/><polyline stroke="#00ffff" stroke-width="3.1" points="282.8,477.8 279.3,472.2 277.5,468.5"/><polyline stroke="#00ff00" stroke-width="3.1" points="277.5,468.5 276.8,466.5 274.3,461.6"/><polyline stroke="#00ffff" stroke-width="3.1" points="274.3,461.6 271.1,456.7 268.5,453.0"/><polyline stroke="#00ff00" stroke-width="3.1" points="268.5,453.0 266.9,450.9 263.7,446.8"/><polyline stroke="#00ffff" stroke-width="3.1" points="263.7,446.8 259.6,441.1 253.0,433.9 247.0,428.5 243.1,426.0 235.2,419.8 227.3,413.9 219.4,409.3 212.2,406.6"/><polyline stroke="#00ff00" stroke-width="3.1" points="212.2,406.6 205.0,403.3 196.5,399.7 187.0,395.5 181.0,392.5 176.2,390.0 168.1,384.4 161.4,377.5 157.0,370.6 154.8,363.2 154.8,357.3 157.0,349.9 162.2,343.2"/><polyline stroke="#00ffff" stroke-width="3.1" points="162.2,343.2 167.3,338.1 171.8,332.9 176.9,326.3"/><polyline stroke="#00ff00" stroke-width="3.1" points="176.9,326.3 182.9,320.3 187.3,315.9 192.5,310.0 201.7,299.1 211.5,289.3 223.3,278.4 233.2,269.6"/><polyline stroke="#0000ff" stroke-width="3.1" points="233.2,269.6 236.5,267.0"/><polyline stroke="#00ff00" stroke-width="3.1" points="236.5,267.0 243.1,263.6"/><polyline stroke="#0000ff" stroke-width="3.1" points="243.1,263.6 254.0,256.0 264.7,247.9"/><polyline stroke="#00ff00" stroke-width="3.1" points="264.7,247.9 270.0,242.6 279.9,236.7 287.7,229.8"/><polyline stroke="#0000ff" stroke-width="3.1" points="287.7,229.8 294.6,223.9"/><polyline stroke="#00ff00" stroke-width="3.1" points="294.6,223.9 303.5,213.1 309.4,205.2 312.4,199.3 315.3,194.3"/><polyline stroke="#0000ff" stroke-width="3.1" points="315.3,194.3 309.4,189.4 303.5,183.5 300.5,177.6 300.5,172.7"/><polyline stroke="#00ff00" stroke-width="3.1" points="300.5,172.7 301.5,169.7 306.5,166.2 311.4,167.3 316.3,172.7 318.3,179.6 318.3,185.5"/><polyline stroke="#0000ff" stroke-width="3.1" points="318.3,185.5 317.3,191.4 318.3,194.3 326.2,195.3"/><polyline stroke="#00ffff" stroke-width="3.1" points="293.5,478.6 290.8,473.9 285.8,467.3 280.9,459.1 277.6,455.0"/><polyline stroke="#ff7f00" stroke-width="3.1" points="277.6,455.0 269.0,447.0 260.0,438.8 253.6,433.0 245.7,425.7 237.8,417.8 228.6,409.9 219.4,403.3 210.9,399.4"/><polyline stroke="#00ffff" stroke-width="3.1" points="210.9,399.4 206.3,397.4 199.7,393.5 193.1,388.2 186.6,383.6 180.6,380.9"/><polyline stroke="#00ff00" stroke-width="3.1" points="180.6,380.9 174.7,375.0 171.0,368.4 169.6,361.7 170.3,355.8 173.3,349.2"/><polyline stroke="#00ffff" stroke-width="3.1" points="173.3,349.2 179.2,341.8 184.3,335.1 191.7,328.5 199.1,322.6 207.6,317.2 225.3,306.0 245.0,295.2"/><polyline stroke="#00ff00" stroke-width="3.1" points="245.0,295.2 268.7,283.7 290.0,273.6 304.8,267.9 319.6,261.9 334.3,255.3 347.6,248.6"/><polyline stroke="#0000ff" stroke-width="3.1" points="347.6,248.6 356.5,243.5 366.8,236.1 375.7,228.7 380.0,225.0 386.6,215.3 395.3,203.6"/><polyline stroke="#00ff00" stroke-width="3.1" points="395.3,203.6 398.5,196.0 400.7,188.8 404.3,183.4"/><polyline stroke="#0000ff" stroke-width="3.1" points="404.3,183.4 406.5,180.5 410.0,178.0 415.2,176.0 420.6,174.8 426.0,172.9 429.5,174.3 434.4,176.3 438.6,176.3"/><polyline stroke="#00ff00" stroke-width="3.1" points="438.6,176.3 451.3,177.9 462.1,182.4 471.2,187.0 481.4,192.8 490.9,201.1 499.2,208.2 505.2,217.7 509.9,226.0 512.3,235.6 515.1,245.1 517.0,254.6 516.5,262.0 514.5,270.0"/><polyline stroke="#0000ff" stroke-width="3.1" points="514.5,270.0 512.5,276.0 510.8,281.0 509.8,287.9"/><polyline stroke="#00ff00" stroke-width="3.1" points="509.8,287.9 507.5,293.0 504.9,297.7 501.0,304.0 498.0,309.6"/><polyline stroke="#00ffff" stroke-width="3.1" points="306.8,478.6 302.2,472.2 295.7,464.0 289.1,454.2 282.5,446.0 275.2,439.4"/><polyline stroke="#ff7f00" stroke-width="3.1" points="275.2,439.4 265.0,430.0 256.2,422.5 248.3,415.2 240.4,408.6"/><polyline stroke="#00ffff" stroke-width="3.1" points="240.4,408.6 232.0,404.0 224.0,399.0 216.0,393.5 209.0,388.5 202.0,383.0 196.0,378.0 190.5,372.5 186.5,366.5 183.6,359.3 184.2,353.0 188.8,345.0 194.7,338.6 201.6,329.7 209.5,321.8 218.3,314.9 227.2,309.5 245.0,297.8 268.7,286.0"/><polyline stroke="#00ff00" stroke-width="3.1" points="268.7,286.0 290.0,277.3 312.2,272.0 334.3,264.5 349.1,257.5"/><polyline stroke="#00ff00" stroke-width="3.1" points="349.1,257.5 363.9,246.0 380.0,235.5 382.6,233.9 395.3,226.7 406.1,219.5 416.1,212.3"/><polyline stroke="#00ffff" stroke-width="3.1" points="416.1,212.3 422.4,205.9 429.6,199.6 436.8,197.8"/><polyline stroke="#00ff00" stroke-width="3.1" points="436.8,197.8 444.1,197.8"/><polyline stroke="#00ffff" stroke-width="3.1" points="444.1,197.8 454.9,203.2"/><polyline stroke="#00ff00" stroke-width="3.1" points="454.9,203.2 467.5,206.8 481.4,213.0 490.9,218.9 500.4,228.4 506.3,236.7 508.7,245.1 509.4,254.6 508.7,264.1 507.5,273.6 505.2,283.1 502.8,290.2"/><polyline stroke="#00ffff" stroke-width="3.1" points="502.8,290.2 500.5,293.5 497.0,297.0 495.0,305.6"/><polyline stroke="#00ffff" stroke-width="3.1" points="317.7,478.4 312.1,472.2 305.5,465.7 299.0,459.9 292.4,455.8"/><polyline stroke="#ff7f00" stroke-width="3.1" points="292.4,455.8 285.8,449.3 279.6,441.3 273.2,433.5 266.7,427.0 255.3,417.2 247.2,410.6 239.2,404.4 233.2,399.2 227.3,394.0"/><polyline stroke="#00ffff" stroke-width="3.1" points="227.3,394.0 221.2,389.2 214.8,384.5 209.5,379.5 205.5,374.0 203.6,368.0 202.6,359.3 204.6,352.4 208.5,344.5 214.4,335.6 222.4,326.7 229.0,318.9 237.1,313.0 254.9,303.5 272.6,294.7 290.3,288.3 304.8,282.6 319.6,275.2 334.3,267.9 349.1,261.9"/><polyline stroke="#00ff00" stroke-width="3.1" points="349.1,261.9 360.9,259.7 371.3,258.6"/><polyline stroke="#0000ff" stroke-width="3.1" points="371.3,258.6 380.8,256.1 391.7,252.5 400.7,250.3 411.5,249.8 422.4,250.7"/><polyline stroke="#00ff00" stroke-width="3.1" points="422.4,250.7 426.0,252.5 436.8,257.0 447.7,263.4 456.7,270.6 462.1,277.8 465.7,286.8"/><polyline stroke="#0000ff" stroke-width="3.1" points="465.7,286.8 469.3,297.7"/><polyline stroke="#00ff00" stroke-width="3.1" points="469.3,297.7 473.9,310.0 476.3,317.4 479.3,327.3"/><polyline stroke="#00ffff" stroke-width="3.1" points="338.7,475.3 333.0,479.5 326.0,481.6 318.0,479.6 309.0,473.6 297.1,464.4"/><polyline stroke="#ff7f00" stroke-width="3.1" points="297.1,464.4 290.0,456.3 283.1,447.3 276.6,438.4 270.8,431.4 264.0,423.2 253.1,413.3 242.0,403.9 231.3,395.2 220.0,388.2 211.0,382.3"/><polyline stroke="#00ffff" stroke-width="3.1" points="348.5,472.7 342.0,477.5 335.0,480.8 327.0,480.9 318.0,477.8 309.0,471.8 298.1,463.5"/><polyline stroke="#ff7f00" stroke-width="3.1" points="298.1,463.5 291.1,455.4 284.3,446.5 277.7,437.5 271.9,430.5 264.9,422.2 253.9,412.4 242.7,403.0 231.9,394.3 220.5,387.4 211.4,381.6"/><polyline stroke="#00ffff" stroke-width="3.1" points="358.6,469.5 352.0,474.5 344.0,478.3 336.0,479.8 327.0,479.0 318.0,475.4 310.0,470.0 304.5,465.3 299.2,462.6"/><polyline stroke="#ff7f00" stroke-width="3.1" points="299.2,462.6 292.1,454.5 285.4,445.6 278.8,436.7 273.0,429.6 265.9,421.2 254.7,411.4 243.4,402.1 232.4,393.5 220.9,386.6 211.8,380.9"/><polyline stroke="#00ffff" stroke-width="3.1" points="368.9,465.0 362.0,469.8 354.0,473.6 345.0,476.0 337.0,476.3 330.0,474.7 322.7,472.4 314.5,468.7 306.3,463.6 300.2,461.7"/><polyline stroke="#ff7f00" stroke-width="3.1" points="300.2,461.7 293.2,453.6 286.5,444.8 279.9,435.8 274.0,428.7 266.9,420.2 255.5,410.4 244.1,401.1 233.0,392.6 221.4,385.9 212.2,380.3"/><polyline stroke="#ff0000" stroke-width="1.3" points="266.0,420.5 258.0,413.2 250.0,406.5 240.0,398.7 231.0,392.3 226.0,389.0"/><polyline stroke="#ff0000" stroke-width="1" points="290.0,446.0 280.0,434.5 270.0,424.0"/><polyline stroke="#ff7f00" stroke-width="3.2" points="214.0,384.5 207.0,379.0"/><polyline stroke="#00ff00" stroke-width="3.2" points="207.0,379.0 200.0,373.0 193.5,368.5 190.8,366.0 188.3,361.5 187.8,357.3 189.8,351.4 193.7,344.5 199.6,336.6 206.5,328.7 214.4,320.8 222.3,314.9 231.2,308.0 247.0,299.1 268.7,288.3 286.4,280.4"/><polyline stroke="#0000ff" stroke-width="3.2" points="286.4,280.4 300.0,275.5 319.6,265.6 349.1,253.1 366.8,243.5 380.0,235.6 388.1,230.3 402.5,222.2 417.0,215.9 429.6,213.2 442.3,213.2 454.9,215.9 467.5,221.3 479.0,226.0 488.5,233.2 498.0,241.5 507.5,251.0 514.7,260.5 520.6,271.2 525.4,281.9 528.9,287.8 524.2,292.6 522.6,293.8 516.7,303.6 510.8,315.5 504.9,327.3 499.0,339.1 495.0,347.0"/><polyline stroke="#ff7f00" stroke-width="3.1" points="216.0,383.0 209.0,378.0"/><polyline stroke="#00ff00" stroke-width="3.1" points="209.0,378.0 203.0,373.5 198.6,370.0 195.7,363.2 194.2,357.3 194.2,351.4 196.2,345.5 200.6,338.6 207.0,330.5 219.4,317.5 231.2,308.5 247.0,299.6 268.7,288.8 286.4,281.0 290.0,280.0"/><polyline stroke="#00ff00" stroke-width="3.1" points="290.0,280.0 312.2,276.0 334.3,269.3 349.1,261.9 360.9,256.8 372.8,252.3 380.8,250.0 397.1,243.0 415.2,238.4 433.2,236.6 445.9,238.4 453.1,238.6"/><polyline stroke="#00ffff" stroke-width="3.1" points="453.1,238.6 465.7,242.6 474.8,248.9 480.2,254.6"/><polyline stroke="#ff7f00" stroke-width="3.1" points="480.2,254.6 481.4,258.1 486.1,266.4 489.7,276.0 490.9,287.8 490.1,291.8"/><polyline stroke="#ff0000" stroke-width="3.1" points="490.1,291.8 491.1,297.7 494.0,305.6 495.0,311.5 495.0,319.4 494.0,331.2"/><polyline stroke="#ff7f00" stroke-width="1.2" points="210.5,326.5 206.5,333.0 203.8,340.0 202.3,348.0 201.8,356.0 202.6,363.5 204.5,370.0 208.0,375.5 213.0,380.0"/><polyline stroke="#00ff00" stroke-width="3.1" points="336.0,276.2 345.2,271.6 361.3,268.2"/><polyline stroke="#0000ff" stroke-width="3.1" points="361.3,268.2 370.0,265.8 380.8,263.4 391.7,262.4 402.5,261.9 415.2,263.0 426.0,265.2"/><polyline stroke="#00ff00" stroke-width="3.1" points="426.0,265.2 438.6,270.6 447.7,275.1"/><polyline stroke="#0000ff" stroke-width="3.1" points="447.7,275.1 452.0,279.0"/><polyline stroke="#00ff00" stroke-width="3.1" points="452.0,279.0 456.7,283.2"/><polyline stroke="#0000ff" stroke-width="3.1" points="456.7,283.2 463.9,291.4"/><polyline stroke="#00ffff" stroke-width="3.1" points="463.9,291.4 467.4,297.7 471.2,303.1 474.5,308.0"/><polyline stroke="#00ff00" stroke-width="3.1" points="474.5,308.0 476.3,317.4 479.3,327.3 482.2,337.1 483.2,347.0 484.2,354.9 484.2,362.8 482.2,372.6 479.3,382.5 476.3,387.4 472.6,389.9 468.7,393.8 466.7,399.7"/><polyline stroke="#ff0000" stroke-width="3" points="490.9,265.3 494.5,271.2 498.0,278.3 499.2,285.5 500.9,295.8 500.9,303.6 497.0,307.6 495.0,311.5 495.0,319.4 494.0,331.2 493.1,343.1 492.7,354.9 491.1,364.7 489.1,372.6 488.4,380.0 486.4,387.9 482.5,395.8 476.6,405.6 470.6,415.5 464.7,425.3 458.8,437.1 452.9,447.0 447.0,456.8 441.1,466.7 435.2,474.6 429.3,482.5"/><polyline stroke="#ff7f00" stroke-width="3.1" points="499.0,305.6 499.0,313.5 498.0,321.4 497.0,329.3 496.0,337.1"/><polyline stroke="#ff0000" stroke-width="3" points="496.0,337.1 494.5,347.0 492.0,356.0 489.5,364.0 486.5,372.0 482.5,380.0 480.5,387.9 477.5,395.8 472.6,405.6 466.7,415.5 460.8,425.3 455.9,435.2 451.9,445.0"/><polyline stroke="#ff0000" stroke-width="3" points="455.9,435.2 447.0,441.0 437.0,445.5 429.3,448.5 422.4,453.9 415.5,458.8 409.6,464.7 401.7,469.7 393.8,475.6 385.9,480.5 380.3,485.5 372.5,490.5 364.6,494.0 356.7,496.8 348.8,499.1 339.0,501.3 329.1,504.0 319.3,506.0 309.4,506.0 299.6,504.0 291.7,501.1 285.8,497.1"/><polyline stroke="#00ffff" stroke-width="3.1" points="497.0,295.8 495.0,305.6 493.1,313.5 489.1,321.4 485.2,329.3 481.2,337.1 478.3,345.0 477.3,352.9 476.3,360.8 472.4,368.7 466.5,376.6 460.8,383.0 456.8,389.0 452.9,397.7 450.9,407.6 448.0,415.5 441.1,423.3 433.2,431.2 422.4,437.6"/><polyline stroke="#ff7f00" stroke-width="3.1" points="422.4,437.6 416.5,443.1"/><polyline stroke="#00ffff" stroke-width="3.1" points="416.5,443.1 403.6,450.4"/><polyline stroke="#ff7f00" stroke-width="3.1" points="403.6,450.4 389.9,459.3 380.3,464.6 374.0,468.6"/><polyline stroke="#00ffff" stroke-width="3.1" points="374.0,468.6 364.6,475.5"/><polyline stroke="#ff7f00" stroke-width="3.1" points="364.6,475.5 362.6,477.0 352.8,484.3"/><polyline stroke="#00ffff" stroke-width="3.1" points="352.8,484.3 350.8,486.3 344.9,490.2 337.0,495.2 333.0,497.1"/><polyline stroke="#ff7f00" stroke-width="3.1" points="471.4,376.6 470.4,382.5 467.4,388.5 464.7,392.5 462.8,399.7 457.8,409.6 450.9,418.4 443.1,426.3 436.2,434.2 430.2,439.1"/><polyline stroke="#0000ff" stroke-width="3.1" points="340.0,259.5 349.1,255.8 370.0,245.7 388.1,234.8 406.1,228.5 424.2,225.8 438.6,226.7 451.3,230.3 460.3,234.8 467.3,240.8"/><polyline stroke="#00ff00" stroke-width="3.1" points="467.3,240.8 474.3,245.6"/></g><path d="M225.0 272.5L229.4 277.4M198.6 297.7L203.6 302.0M177.1 321.5L181.7 326.1M160.9 339.8L165.6 344.5M151.5 361.4L158.1 361.4M163.4 384.3L168.2 379.7M176.0 340.5L181.2 344.6M167.5 367.8L174.0 366.5M180.6 356.4L187.1 357.0M228.3 300.6L231.5 306.4M216.4 315.2L220.3 320.5M229.4 314.5L233.3 319.8M268.7 280.0L271.6 286.0M191.6 341.8L196.9 345.8M202.4 379.4L206.7 374.4M423.6 159.3L423.1 165.9M456.1 163.0L455.3 169.6M400.9 182.6L406.4 186.3M464.3 179.8L461.3 185.7M429.4 196.2L431.0 202.6M451.3 197.7L448.4 203.6M421.5 211.6L422.9 218.0M439.5 209.9L439.5 216.5M468.8 218.3L466.2 224.3M427.2 222.7L426.7 229.3M453.9 227.9L450.9 233.8M403.1 238.1L404.7 244.5M444.5 234.9L443.5 241.4M388.9 206.7L394.2 210.7M398.1 206.9L403.6 210.5M390.9 225.4L394.1 231.2M391.5 230.1L393.7 236.3M489.7 168.1L487.1 174.2M527.7 190.5L523.1 195.1M463.7 179.5L460.7 185.4M494.9 200.2L490.6 205.2M513.2 225.5L506.8 227.1M520.0 252.6L513.5 253.9M481.3 209.3L478.6 215.4M506.0 230.6L500.6 234.4M468.5 218.1L465.9 224.2M504.5 243.4L499.9 248.0M521.4 265.8L515.6 269.0M525.4 295.8L521.5 290.5M465.6 239.1L463.6 245.4M488.4 263.8L482.7 267.0M497.3 269.5L491.7 272.9M468.2 284.1L462.1 286.6M467.7 283.0L461.6 285.5M470.6 296.5L465.2 300.3M506.9 288.3L500.7 286.2M511.6 292.0L505.5 289.3M495.0 298.6L488.8 300.9M511.8 320.9L505.9 317.9M483.6 340.1L477.4 337.8M486.6 347.3L480.0 348.1M496.2 348.2L489.6 348.0M492.8 371.5L486.4 369.9M471.4 387.9L465.5 384.9M481.2 385.8L475.5 382.3M471.5 387.8L465.5 384.8M457.0 415.9L451.8 411.9M476.7 411.8L471.1 408.4M445.4 428.6L440.8 424.0M455.4 445.0L449.3 442.5M418.8 445.5L414.2 440.7M412.4 466.5L407.8 461.9M377.9 470.0L374.4 464.4M361.1 482.3L357.1 477.0M201.9 405.6L204.5 399.5M250.6 436.1L255.4 431.7M261.6 427.0L265.9 422.0M269.9 428.7L274.7 424.1M275.1 437.4L280.2 433.2M353.9 241.2L357.2 246.9M363.0 241.8L366.2 247.6M327.3 259.4L330.7 265.0M316.8 263.3L319.8 269.2M391.5 230.1L393.6 236.4M402.9 238.1L404.5 244.5M394.3 248.5L395.8 254.9M426.2 261.9L424.9 268.3M345.2 268.2L346.6 274.7M335.9 272.6L338.8 278.5M320.7 175.9L314.3 177.8M288.3 225.0L292.6 230.0M241.5 260.7L244.5 266.6M330.8 507.0L329.1 500.6M399.3 475.6L395.4 470.3M440.7 472.8L435.4 468.8" stroke="#000" stroke-width="0.9" fill="none"/><g transform="translate(282.8 477.8)"><path fill-rule="evenodd" fill="#000" d="M-4-4H4V4H-4ZM3 0A3 3 0 1 0 -3 0A3 3 0 1 0 3 0Z"/><path d="M-2.2-2.2L2.2 2.2M-2.2 2.2L2.2-2.2" stroke="#000" stroke-width="0.9"/></g><g transform="translate(293.5 478.6)"><path fill-rule="evenodd" fill="#000" d="M-4-4H4V4H-4ZM3 0A3 3 0 1 0 -3 0A3 3 0 1 0 3 0Z"/><path d="M-2.2-2.2L2.2 2.2M-2.2 2.2L2.2-2.2" stroke="#000" stroke-width="0.9"/></g><g transform="translate(306.8 478.6)"><path fill-rule="evenodd" fill="#000" d="M-4-4H4V4H-4ZM3 0A3 3 0 1 0 -3 0A3 3 0 1 0 3 0Z"/><path d="M-2.2-2.2L2.2 2.2M-2.2 2.2L2.2-2.2" stroke="#000" stroke-width="0.9"/></g><g transform="translate(317.7 478.4)"><path fill-rule="evenodd" fill="#000" d="M-4-4H4V4H-4ZM3 0A3 3 0 1 0 -3 0A3 3 0 1 0 3 0Z"/><path d="M-2.2-2.2L2.2 2.2M-2.2 2.2L2.2-2.2" stroke="#000" stroke-width="0.9"/></g><g transform="translate(338.7 475.3)"><path fill-rule="evenodd" fill="#000" d="M-4-4H4V4H-4ZM3 0A3 3 0 1 0 -3 0A3 3 0 1 0 3 0Z"/><path d="M-2.2-2.2L2.2 2.2M-2.2 2.2L2.2-2.2" stroke="#000" stroke-width="0.9"/></g><g transform="translate(348.5 472.7)"><path fill-rule="evenodd" fill="#000" d="M-4-4H4V4H-4ZM3 0A3 3 0 1 0 -3 0A3 3 0 1 0 3 0Z"/><path d="M-2.2-2.2L2.2 2.2M-2.2 2.2L2.2-2.2" stroke="#000" stroke-width="0.9"/></g><g transform="translate(358.6 469.5)"><path fill-rule="evenodd" fill="#000" d="M-4-4H4V4H-4ZM3 0A3 3 0 1 0 -3 0A3 3 0 1 0 3 0Z"/><path d="M-2.2-2.2L2.2 2.2M-2.2 2.2L2.2-2.2" stroke="#000" stroke-width="0.9"/></g><g transform="translate(368.9 465.0)"><path fill-rule="evenodd" fill="#000" d="M-4-4H4V4H-4ZM3 0A3 3 0 1 0 -3 0A3 3 0 1 0 3 0Z"/><path d="M-2.2-2.2L2.2 2.2M-2.2 2.2L2.2-2.2" stroke="#000" stroke-width="0.9"/></g>
</g>
<rect x="28.7" y="49.4" width="553.7" height="553.5" fill="none" stroke="#000" stroke-width="1.2"/>
<text transform="translate(96.4 28.0) scale(0.9635 1)" font-size="25.30" fill="#000" text-anchor="start" xml:space="preserve" id="title">TRAJKS : back 40L02p1112z360b_cP</text><text transform="translate(3.8 627.8) scale(0.9543 1)" font-size="18.30" fill="#0000ff" text-anchor="start" xml:space="preserve" id="footer">MAGICS 6.8 bhlclim.knmi.nl - apache Fri Dec  3 07:50:33 2010</text><text transform="translate(73.2 43.6) scale(0.947 1)" font-size="8.13" fill="#000" text-anchor="middle" xml:space="preserve">140°W</text><text transform="translate(145.7 43.6) scale(0.947 1)" font-size="8.13" fill="#000" text-anchor="middle" xml:space="preserve">150°W</text><text transform="translate(204.8 43.6) scale(0.947 1)" font-size="8.13" fill="#000" text-anchor="middle" xml:space="preserve">160°W</text><text transform="translate(256.7 43.6) scale(0.947 1)" font-size="8.13" fill="#000" text-anchor="middle" xml:space="preserve">170°W</text><text transform="translate(305.5 43.6) scale(0.947 1)" font-size="8.13" fill="#000" text-anchor="middle" xml:space="preserve">180°</text><text transform="translate(354.3 43.6) scale(0.947 1)" font-size="8.13" fill="#000" text-anchor="middle" xml:space="preserve">170°E</text><text transform="translate(406.2 43.6) scale(0.947 1)" font-size="8.13" fill="#000" text-anchor="middle" xml:space="preserve">160°E</text><text transform="translate(465.3 43.6) scale(0.947 1)" font-size="8.13" fill="#000" text-anchor="middle" xml:space="preserve">150°E</text><text transform="translate(537.8 43.6) scale(0.947 1)" font-size="8.13" fill="#000" text-anchor="middle" xml:space="preserve">140°E</text><text transform="translate(71.5 613.3) scale(0.947 1)" font-size="8.13" fill="#000" text-anchor="middle" xml:space="preserve">40°W</text><text transform="translate(143.0 613.3) scale(0.947 1)" font-size="8.13" fill="#000" text-anchor="middle" xml:space="preserve">30°W</text><text transform="translate(200.2 613.3) scale(0.947 1)" font-size="8.13" fill="#000" text-anchor="middle" xml:space="preserve">20°W</text><text transform="translate(252.2 613.3) scale(0.947 1)" font-size="8.13" fill="#000" text-anchor="middle" xml:space="preserve">10°W</text><text transform="translate(298.2 613.3) scale(0.947 1)" font-size="8.13" fill="#000" text-anchor="middle" xml:space="preserve">0°</text><text transform="translate(346.0 613.3) scale(0.947 1)" font-size="8.13" fill="#000" text-anchor="middle" xml:space="preserve">10°E</text><text transform="translate(395.9 613.3) scale(0.947 1)" font-size="8.13" fill="#000" text-anchor="middle" xml:space="preserve">20°E</text><text transform="translate(454.0 613.3) scale(0.947 1)" font-size="8.13" fill="#000" text-anchor="middle" xml:space="preserve">30°E</text><text transform="translate(524.6 613.3) scale(0.947 1)" font-size="8.13" fill="#000" text-anchor="middle" xml:space="preserve">40°E</text><text transform="translate(587.3 561.2) scale(0.947 1)" font-size="8.13" fill="#000" text-anchor="start" xml:space="preserve">50°E</text><text transform="translate(22.2 561.2) scale(0.947 1)" font-size="8.13" fill="#000" text-anchor="end" xml:space="preserve">50°W</text><text transform="translate(587.3 488.8) scale(0.947 1)" font-size="8.13" fill="#000" text-anchor="start" xml:space="preserve">60°E</text><text transform="translate(22.2 488.8) scale(0.947 1)" font-size="8.13" fill="#000" text-anchor="end" xml:space="preserve">60°W</text><text transform="translate(587.3 429.7) scale(0.947 1)" font-size="8.13" fill="#000" text-anchor="start" xml:space="preserve">70°E</text><text transform="translate(22.2 429.7) scale(0.947 1)" font-size="8.13" fill="#000" text-anchor="end" xml:space="preserve">70°W</text><text transform="translate(587.3 377.7) scale(0.947 1)" font-size="8.13" fill="#000" text-anchor="start" xml:space="preserve">80°E</text><text transform="translate(22.2 377.7) scale(0.947 1)" font-size="8.13" fill="#000" text-anchor="end" xml:space="preserve">80°W</text><text transform="translate(587.3 328.9) scale(0.947 1)" font-size="8.13" fill="#000" text-anchor="start" xml:space="preserve">90°E</text><text transform="translate(22.2 328.9) scale(0.947 1)" font-size="8.13" fill="#000" text-anchor="end" xml:space="preserve">90°W</text><text transform="translate(587.3 280.1) scale(0.947 1)" font-size="8.13" fill="#000" text-anchor="start" xml:space="preserve">100°E</text><text transform="translate(22.2 280.1) scale(0.947 1)" font-size="8.13" fill="#000" text-anchor="end" xml:space="preserve">100°W</text><text transform="translate(587.3 228.1) scale(0.947 1)" font-size="8.13" fill="#000" text-anchor="start" xml:space="preserve">110°E</text><text transform="translate(22.2 228.1) scale(0.947 1)" font-size="8.13" fill="#000" text-anchor="end" xml:space="preserve">110°W</text><text transform="translate(587.3 169.0) scale(0.947 1)" font-size="8.13" fill="#000" text-anchor="start" xml:space="preserve">120°E</text><text transform="translate(22.2 169.0) scale(0.947 1)" font-size="8.13" fill="#000" text-anchor="end" xml:space="preserve">120°W</text><text transform="translate(587.3 96.6) scale(0.947 1)" font-size="8.13" fill="#000" text-anchor="start" xml:space="preserve">130°E</text><text transform="translate(22.2 96.6) scale(0.947 1)" font-size="8.13" fill="#000" text-anchor="end" xml:space="preserve">130°W</text><text transform="translate(118.7 576.0) scale(0.947 1)" font-size="12.57" fill="#000" text-anchor="start" xml:space="preserve">pressure</text><text transform="translate(109.7 595.3) scale(0.947 1)" font-size="12.57" fill="#00ffff" text-anchor="start" xml:space="preserve">36. -</text><text transform="translate(186.5 595.3) scale(0.947 1)" font-size="12.57" fill="#00ffff" text-anchor="end" xml:space="preserve">41.hPa</text><text transform="translate(242.7 576.0) scale(0.947 1)" font-size="12.57" fill="#ff0000" text-anchor="start" xml:space="preserve">above</text><text transform="translate(331.4 576.0) scale(0.947 1)" font-size="12.57" fill="#ff0000" text-anchor="end" xml:space="preserve">31.&gt;hPa</text><text transform="translate(256.0 595.3) scale(0.947 1)" font-size="12.57" fill="#00ff00" text-anchor="start" xml:space="preserve">41. -</text><text transform="translate(333.0 595.3) scale(0.947 1)" font-size="12.57" fill="#00ff00" text-anchor="end" xml:space="preserve">46.hPa</text><text transform="translate(383.0 553.0) scale(0.947 1)" font-size="12.57" fill="#000" text-anchor="start" xml:space="preserve">&gt;--&gt; = 24 hrs.</text><text transform="translate(402.4 576.0) scale(0.947 1)" font-size="12.57" fill="#ff7f00" text-anchor="start" xml:space="preserve">31. -</text><text transform="translate(479.6 576.0) scale(0.947 1)" font-size="12.57" fill="#ff7f00" text-anchor="end" xml:space="preserve">36.hPa</text><text transform="translate(390.0 595.3) scale(0.947 1)" font-size="12.57" fill="#0000ff" text-anchor="start" xml:space="preserve">below</text><text transform="translate(479.6 595.3) scale(0.947 1)" font-size="12.57" fill="#0000ff" text-anchor="end" xml:space="preserve">46.&gt;hPa</text><g id="logo"><circle cx="584.2" cy="616.4" r="11.6" fill="#0000ff"/><circle cx="595.3" cy="616.4" r="11.6" fill="#0000ff"/><circle cx="584.2" cy="616.4" r="6.1" fill="#fff"/><circle cx="595.3" cy="616.4" r="6.1" fill="#fff"/><rect x="599.5" y="613.5" width="8.5" height="5.6" fill="#fff"/><rect x="571.5" y="613.5" width="8" height="5.6" fill="#fff"/><rect x="572.8" y="615" width="9.6" height="2.9" fill="#0000ff"/></g>
</svg></body></html>
